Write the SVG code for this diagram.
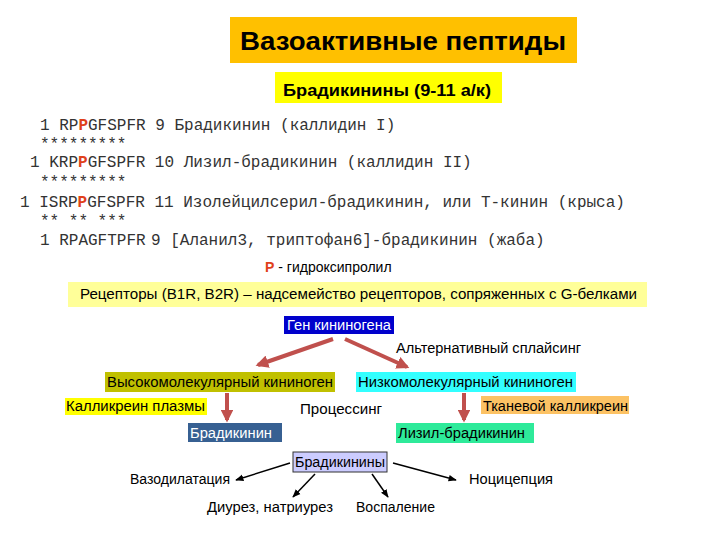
<svg xmlns="http://www.w3.org/2000/svg" width="720" height="540" viewBox="0 0 720 540">
<defs>
<style>
.s{font-family:"Liberation Sans",Arial,sans-serif;font-size:14px;fill:#000}
.m{font-family:"Liberation Mono","Courier New",monospace;font-size:16px;fill:#333}
.rp{fill:#e0401a;font-weight:bold}
.ra{stroke:#c0504d;stroke-width:4;fill:none}
.ba{stroke:#000;stroke-width:1.5;fill:none}
</style>
<marker id="mr" viewBox="0 0 10 10" refX="8" refY="5" markerWidth="3.2" markerHeight="3.2" orient="auto" markerUnits="strokeWidth">
<path d="M0,0 L10,5 L0,10 z" fill="#c0504d"/>
</marker>
<marker id="mb" viewBox="0 0 10 10" refX="9" refY="5" markerWidth="5.5" markerHeight="5.5" orient="auto" markerUnits="strokeWidth">
<path d="M0,1 L10,5 L0,9 z" fill="#000"/>
</marker>
</defs>
<rect width="720" height="540" fill="#fff"/>

<g id="title">
<rect x="230" y="17" width="347" height="46" fill="#ffc000"/>
<text x="240" y="50" style="font-family:'Liberation Sans',Arial,sans-serif;font-weight:bold;font-size:26px" textLength="326" lengthAdjust="spacingAndGlyphs">Вазоактивные пептиды</text>
</g>
<g id="subtitle">
<rect x="275" y="72" width="227" height="31" fill="#ffff00"/>
<text x="283" y="96" style="font-family:'Liberation Sans',Arial,sans-serif;font-weight:bold;font-size:16px" textLength="208" lengthAdjust="spacingAndGlyphs">Брадикинины (9-11 а/к)</text>
</g>

<g id="sequences">
<text class="m" x="40" y="130">1 RP<tspan class="rp">P</tspan>GFSPFR 9 Брадикинин (каллидин I)</text>
<text class="m" x="40" y="149">  *********</text>
<text class="m" x="30" y="167">1 KRP<tspan class="rp">P</tspan>GFSPFR 10 Лизил-брадикинин (каллидин II)</text>
<text class="m" x="40" y="187">  *********</text>
<text class="m" x="20" y="207">1 ISRP<tspan class="rp">P</tspan>GFSPFR 11 Изолейцилсерил-брадикинин, или Т-кинин (крыса)</text>
<text class="m" x="40" y="226">  ** ** ***</text>
<text class="m" x="40" y="245">1 RPAGFTPFR <tspan x="151">9 [Аланил3, триптофан6]-брадикинин (жаба)</tspan></text>
</g>

<g id="legend">
<text class="s" x="265" y="272"><tspan class="rp">P</tspan> - гидроксипролил</text>
</g>

<g id="receptors">
<rect x="68" y="282" width="579" height="25" fill="#ffff99"/>
<text class="s" x="80" y="299" textLength="557" lengthAdjust="spacingAndGlyphs">Рецепторы (B1R, B2R) – надсемейство рецепторов, сопряженных с G-белками</text>
</g>

<g id="gene">
<rect x="284" y="316" width="110" height="18" fill="#0000cc"/>
<text class="s" x="287" y="330" style="fill:#fff" textLength="104" lengthAdjust="spacingAndGlyphs">Ген кининогена</text>
</g>
<g id="splicing">
<text class="s" x="396" y="353" textLength="185" lengthAdjust="spacingAndGlyphs">Альтернативный сплайсинг</text>
</g>
<g id="hmw">
<rect x="105" y="372" width="230" height="20" fill="#c0c000"/>
<text class="s" x="107" y="387" textLength="226" lengthAdjust="spacingAndGlyphs">Высокомолекулярный кининоген</text>
</g>
<g id="lmw">
<rect x="356" y="372" width="220" height="20" fill="#33ffff"/>
<text class="s" x="358" y="387" textLength="215" lengthAdjust="spacingAndGlyphs">Низкомолекулярный кининоген</text>
</g>
<g id="plasma">
<rect x="65" y="398" width="142" height="17" fill="#ffff00"/>
<text class="s" x="66" y="411" textLength="139" lengthAdjust="spacingAndGlyphs">Калликреин плазмы</text>
</g>
<g id="processing">
<text class="s" x="300" y="414" textLength="82" lengthAdjust="spacingAndGlyphs">Процессинг</text>
</g>
<g id="tissue">
<rect x="481" y="396" width="148" height="18" fill="#fcc264"/>
<text class="s" x="483" y="411" textLength="145" lengthAdjust="spacingAndGlyphs">Тканевой калликреин</text>
</g>
<g id="bradykinin">
<rect x="188" y="423" width="94" height="19" fill="#376092"/>
<text class="s" x="190" y="438" style="fill:#fff" textLength="82" lengthAdjust="spacingAndGlyphs">Брадикинин</text>
</g>
<g id="lysyl">
<rect x="396" y="423" width="138" height="20" fill="#2eea9a"/>
<text class="s" x="398" y="438" textLength="127" lengthAdjust="spacingAndGlyphs">Лизил-брадикинин</text>
</g>
<g id="bradykinins">
<rect x="293" y="452" width="94" height="20" fill="#ccccff" stroke="#333" stroke-width="1"/>
<text class="s" x="295" y="467" textLength="90" lengthAdjust="spacingAndGlyphs">Брадикинины</text>
</g>
<g id="vasodilation"><text class="s" x="130" y="484" textLength="100" lengthAdjust="spacingAndGlyphs">Вазодилатация</text></g>
<g id="nociception"><text class="s" x="469" y="484" textLength="84" lengthAdjust="spacingAndGlyphs">Ноцицепция</text></g>
<g id="diuresis"><text class="s" x="207" y="512" textLength="126" lengthAdjust="spacingAndGlyphs">Диурез, натриурез</text></g>
<g id="inflammation"><text class="s" x="356" y="512" textLength="79" lengthAdjust="spacingAndGlyphs">Воспаление</text></g>

<g id="connectors">
<line class="ra" x1="333" y1="339" x2="258" y2="365" marker-end="url(#mr)"/>
<line class="ra" x1="345" y1="339" x2="407" y2="367" marker-end="url(#mr)"/>
<line class="ra" x1="227" y1="393" x2="227" y2="420" marker-end="url(#mr)"/>
<line class="ra" x1="464" y1="393" x2="464" y2="420" marker-end="url(#mr)"/>
<line class="ba" x1="290" y1="463" x2="236" y2="480" marker-end="url(#mb)"/>
<line class="ba" x1="315" y1="474" x2="293" y2="497" marker-end="url(#mb)"/>
<line class="ba" x1="372" y1="474" x2="388" y2="497" marker-end="url(#mb)"/>
<line class="ba" x1="393" y1="463" x2="456" y2="480" marker-end="url(#mb)"/>
</g>
</svg>
